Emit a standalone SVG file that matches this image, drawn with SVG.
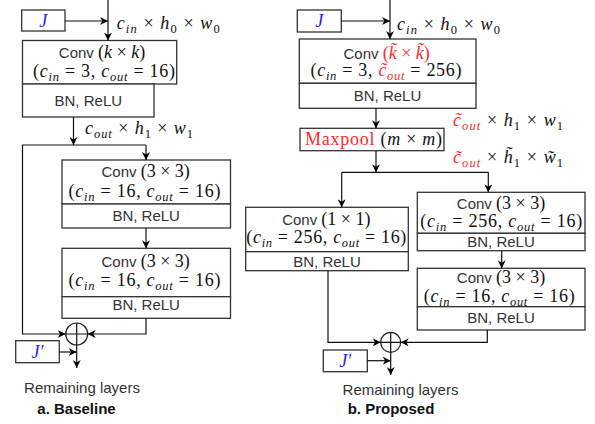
<svg xmlns="http://www.w3.org/2000/svg" width="595" height="424" viewBox="0 0 595 424">
  <defs>
    <marker id="ah" viewBox="0 0 10 10" refX="10" refY="5" markerWidth="8" markerHeight="8" markerUnits="userSpaceOnUse" orient="auto">
      <path d="M0,0 L10,5 L0,10 L3,5 z" fill="#000"/>
    </marker>
    <style>
      .box { fill: #fff; stroke: #333; stroke-width: 1.3; }
      .wire { fill: none; stroke: #111; stroke-width: 1.2; }
      .arr { marker-end: url(#ah); }
      .sans { font-family: "Liberation Sans", Arial, sans-serif; font-size: 15px; fill: #333; }
      .cap { font-family: "Liberation Sans", Arial, sans-serif; font-size: 15px; fill: #333; }
      .bold { font-weight: bold; fill: #111; }
      .m { font-family: "Liberation Serif", "Times New Roman", serif; font-size: 18px; fill: #111; font-style: normal; font-weight: normal; }
      .i { font-style: italic; }
      .sb { font-size: 12.5px; }
      .red { fill: #ff2b2b; }
      .blue { fill: #1f1fff; }
      .sum { fill: #fff; stroke: #222; stroke-width: 1.2; }
    </style>
  </defs>

  <!-- ===== Baseline network ===== -->
  <g id="a-input-J">
    <rect class="box" x="21.7" y="10" width="43.3" height="21"/>
    <text class="m i blue" x="43.3" y="26.5" text-anchor="middle">J</text>
  </g>

  <g id="a-conv-kxk">
    <rect class="box" x="22.5" y="40.5" width="154.2" height="43.5"/>
    <rect class="box" x="22.5" y="84" width="131.5" height="33"/>
    <text class="sans" x="102" y="58.3" text-anchor="middle">Conv <tspan class="m">(<tspan class="i">k</tspan> × <tspan class="i">k</tspan>)</tspan></text>
    <text class="m" x="104" y="77" text-anchor="middle" textLength="142" lengthAdjust="spacing">(<tspan class="i">c</tspan><tspan class="i sb" dy="4">in</tspan><tspan dy="-4"> = 3, </tspan><tspan class="i">c</tspan><tspan class="i sb" dy="4">out</tspan><tspan dy="-4"> = 16)</tspan></text>
    <text class="sans" x="88.3" y="106" text-anchor="middle">BN, ReLU</text>
  </g>

  <g id="a-conv-3x3-1">
    <rect class="box" x="62" y="160" width="168.5" height="44"/>
    <rect class="box" x="62" y="204" width="168.5" height="24"/>
    <text class="sans" x="145.7" y="177.3" text-anchor="middle">Conv <tspan class="m">(3 × 3)</tspan></text>
    <text class="m" x="144.5" y="197.3" text-anchor="middle" textLength="152" lengthAdjust="spacing">(<tspan class="i">c</tspan><tspan class="i sb" dy="4">in</tspan><tspan dy="-4"> = 16, </tspan><tspan class="i">c</tspan><tspan class="i sb" dy="4">out</tspan><tspan dy="-4"> = 16)</tspan></text>
    <text class="sans" x="146.2" y="220.7" text-anchor="middle">BN, ReLU</text>
  </g>

  <g id="a-conv-3x3-2">
    <rect class="box" x="62" y="248.3" width="168.5" height="48.4"/>
    <rect class="box" x="62" y="296.7" width="168.5" height="21.6"/>
    <text class="sans" x="145.7" y="266.7" text-anchor="middle">Conv <tspan class="m">(3 × 3)</tspan></text>
    <text class="m" x="144.5" y="286" text-anchor="middle" textLength="152" lengthAdjust="spacing">(<tspan class="i">c</tspan><tspan class="i sb" dy="4">in</tspan><tspan dy="-4"> = 16, </tspan><tspan class="i">c</tspan><tspan class="i sb" dy="4">out</tspan><tspan dy="-4"> = 16)</tspan></text>
    <text class="sans" x="146.2" y="310" text-anchor="middle">BN, ReLU</text>
  </g>

  <g id="a-sum">
    <circle class="sum" cx="76.7" cy="334" r="11"/>
    <path class="wire" d="M65.7,334 H87.7 M76.7,323 V345"/>
  </g>

  <g id="a-input-Jp">
    <rect class="box" x="15.7" y="340.7" width="43.6" height="22"/>
    <text class="m i blue" x="37.5" y="357.5" text-anchor="middle">J′</text>
  </g>

  <g id="a-labels">
    <text class="m" x="116.7" y="28.5" textLength="103" lengthAdjust="spacing"><tspan class="i">c</tspan><tspan class="i sb" dy="4">in</tspan><tspan dy="-4"> × </tspan><tspan class="i">h</tspan><tspan class="sb" dy="4">0</tspan><tspan dy="-4"> × </tspan><tspan class="i">w</tspan><tspan class="sb" dy="4">0</tspan></text>
    <text class="m" x="85" y="134" textLength="108" lengthAdjust="spacing"><tspan class="i">c</tspan><tspan class="i sb" dy="4">out</tspan><tspan dy="-4"> × </tspan><tspan class="i">h</tspan><tspan class="sb" dy="4">1</tspan><tspan dy="-4"> × </tspan><tspan class="i">w</tspan><tspan class="sb" dy="4">1</tspan></text>
    <text class="cap" x="82" y="392.7" text-anchor="middle">Remaining layers</text>
    <text class="cap bold" x="76.5" y="414.3" text-anchor="middle">a. Baseline</text>
  </g>

  <!-- ===== Proposed network ===== -->
  <g id="b-input-J">
    <rect class="box" x="297.3" y="10" width="44" height="22"/>
    <text class="m i blue" x="319.3" y="27" text-anchor="middle">J</text>
  </g>

  <g id="b-conv-kxk">
    <rect class="box" x="299.3" y="39" width="176.7" height="44.3"/>
    <rect class="box" x="299.3" y="83.3" width="176.7" height="25"/>
    <text class="sans" x="386.7" y="59.3" text-anchor="middle">Conv <tspan class="m red">(<tspan class="i">k̃</tspan> × <tspan class="i">k̃</tspan>)</tspan></text>
    <text class="m" x="386" y="76" text-anchor="middle" textLength="151" lengthAdjust="spacing">(<tspan class="i">c</tspan><tspan class="i sb" dy="4">in</tspan><tspan dy="-4"> = 3, </tspan><tspan class="i red">c̃</tspan><tspan class="i sb red" dy="4">out</tspan><tspan dy="-4"> = 256)</tspan></text>
    <text class="sans" x="387.5" y="100.7" text-anchor="middle">BN, ReLU</text>
  </g>

  <g id="b-maxpool">
    <rect class="box" x="300" y="128.3" width="144" height="22.4"/>
    <text class="m" x="373.5" y="145" text-anchor="middle" textLength="137" lengthAdjust="spacing"><tspan class="red">Maxpool</tspan> (<tspan class="i">m</tspan> × <tspan class="i">m</tspan>)</text>
  </g>

  <g id="b-conv-1x1">
    <rect class="box" x="245.7" y="207.3" width="162.6" height="44.4"/>
    <rect class="box" x="245.7" y="251.7" width="162.6" height="19"/>
    <text class="sans" x="326.3" y="225" text-anchor="middle">Conv <tspan class="m">(1 × 1)</tspan></text>
    <text class="m" x="326.3" y="243.3" text-anchor="middle" textLength="160" lengthAdjust="spacing">(<tspan class="i">c</tspan><tspan class="i sb" dy="4">in</tspan><tspan dy="-4"> = 256, </tspan><tspan class="i">c</tspan><tspan class="i sb" dy="4">out</tspan><tspan dy="-4"> = 16)</tspan></text>
    <text class="sans" x="327" y="266.7" text-anchor="middle">BN, ReLU</text>
  </g>

  <g id="b-conv-3x3-1">
    <rect class="box" x="417.3" y="192.3" width="167.7" height="41"/>
    <rect class="box" x="417.3" y="233.3" width="167.7" height="17.4"/>
    <text class="sans" x="501" y="209.3" text-anchor="middle">Conv <tspan class="m">(3 × 3)</tspan></text>
    <text class="m" x="501.3" y="227.3" text-anchor="middle" textLength="162" lengthAdjust="spacing">(<tspan class="i">c</tspan><tspan class="i sb" dy="4">in</tspan><tspan dy="-4"> = 256, </tspan><tspan class="i">c</tspan><tspan class="i sb" dy="4">out</tspan><tspan dy="-4"> = 16)</tspan></text>
    <text class="sans" x="501" y="247.3" text-anchor="middle">BN, ReLU</text>
  </g>

  <g id="b-conv-3x3-2">
    <rect class="box" x="417.3" y="268.3" width="167.7" height="38.4"/>
    <rect class="box" x="417.3" y="306.7" width="167.7" height="23.3"/>
    <text class="sans" x="501" y="283.3" text-anchor="middle">Conv <tspan class="m">(3 × 3)</tspan></text>
    <text class="m" x="499.2" y="301.7" text-anchor="middle" textLength="151" lengthAdjust="spacing">(<tspan class="i">c</tspan><tspan class="i sb" dy="4">in</tspan><tspan dy="-4"> = 16, </tspan><tspan class="i">c</tspan><tspan class="i sb" dy="4">out</tspan><tspan dy="-4"> = 16)</tspan></text>
    <text class="sans" x="501" y="322.7" text-anchor="middle">BN, ReLU</text>
  </g>

  <g id="b-sum">
    <circle class="sum" cx="390.7" cy="342.3" r="10"/>
    <path class="wire" d="M380.7,342.3 H400.7 M390.7,332.3 V352.3"/>
  </g>

  <g id="b-input-Jp">
    <rect class="box" x="323.3" y="350" width="44" height="21.7"/>
    <text class="m i blue" x="345.3" y="366.5" text-anchor="middle">J′</text>
  </g>

  <g id="b-labels">
    <text class="m" x="397" y="29.5" textLength="103" lengthAdjust="spacing"><tspan class="i">c</tspan><tspan class="i sb" dy="4">in</tspan><tspan dy="-4"> × </tspan><tspan class="i">h</tspan><tspan class="sb" dy="4">0</tspan><tspan dy="-4"> × </tspan><tspan class="i">w</tspan><tspan class="sb" dy="4">0</tspan></text>
    <text class="m" x="453" y="126" textLength="110" lengthAdjust="spacing"><tspan class="i red">c̃</tspan><tspan class="i sb red" dy="4">out</tspan><tspan dy="-4"> × </tspan><tspan class="i">h</tspan><tspan class="sb" dy="4">1</tspan><tspan dy="-4"> × </tspan><tspan class="i">w</tspan><tspan class="sb" dy="4">1</tspan></text>
    <text class="m" x="453" y="163.3" textLength="110" lengthAdjust="spacing"><tspan class="i red">c̃</tspan><tspan class="i sb red" dy="4">out</tspan><tspan dy="-4"> × </tspan><tspan class="i">h̃</tspan><tspan class="sb" dy="4">1</tspan><tspan dy="-4"> × </tspan><tspan class="i">w̃</tspan><tspan class="sb" dy="4">1</tspan></text>
    <text class="cap" x="400.5" y="394.7" text-anchor="middle">Remaining layers</text>
    <text class="cap bold" x="391" y="414.3" text-anchor="middle">b. Proposed</text>
  </g>

  <!-- ===== Connectors ===== -->
  <g id="connectors">
    <!-- baseline -->
    <path class="wire arr" d="M65,21 H108"/>
    <path class="wire arr" d="M108,0 V40.5"/>
    <path class="wire arr" d="M73.5,117 V145"/>
    <path class="wire arr" d="M146,145 H22.5 V334 H65.7"/>
    <path class="wire arr" d="M146,145 V160"/>
    <path class="wire arr" d="M146,228 V248.3"/>
    <path class="wire arr" d="M146,318.3 V334 H87.7"/>
    <path class="wire arr" d="M59.3,352 H76.7"/>
    <path class="wire arr" d="M76.7,345 V368"/>
    <!-- proposed -->
    <path class="wire arr" d="M341.3,21 H390"/>
    <path class="wire arr" d="M390,0 V39"/>
    <path class="wire arr" d="M376,108.3 V128.3"/>
    <path class="wire arr" d="M376,150.7 V172.3"/>
    <path class="wire" d="M341.7,172.3 H488.3"/>
    <path class="wire arr" d="M341.7,172.3 V207.3"/>
    <path class="wire arr" d="M488.3,172.3 V192.3"/>
    <path class="wire arr" d="M501.7,250.7 V268.3"/>
    <path class="wire arr" d="M328,270.7 V342.3 H380.7"/>
    <path class="wire arr" d="M487.3,330 V342.3 H400.7"/>
    <path class="wire arr" d="M367.3,360.7 H390.7"/>
    <path class="wire arr" d="M390.7,352.3 V375"/>
  </g>
</svg>
